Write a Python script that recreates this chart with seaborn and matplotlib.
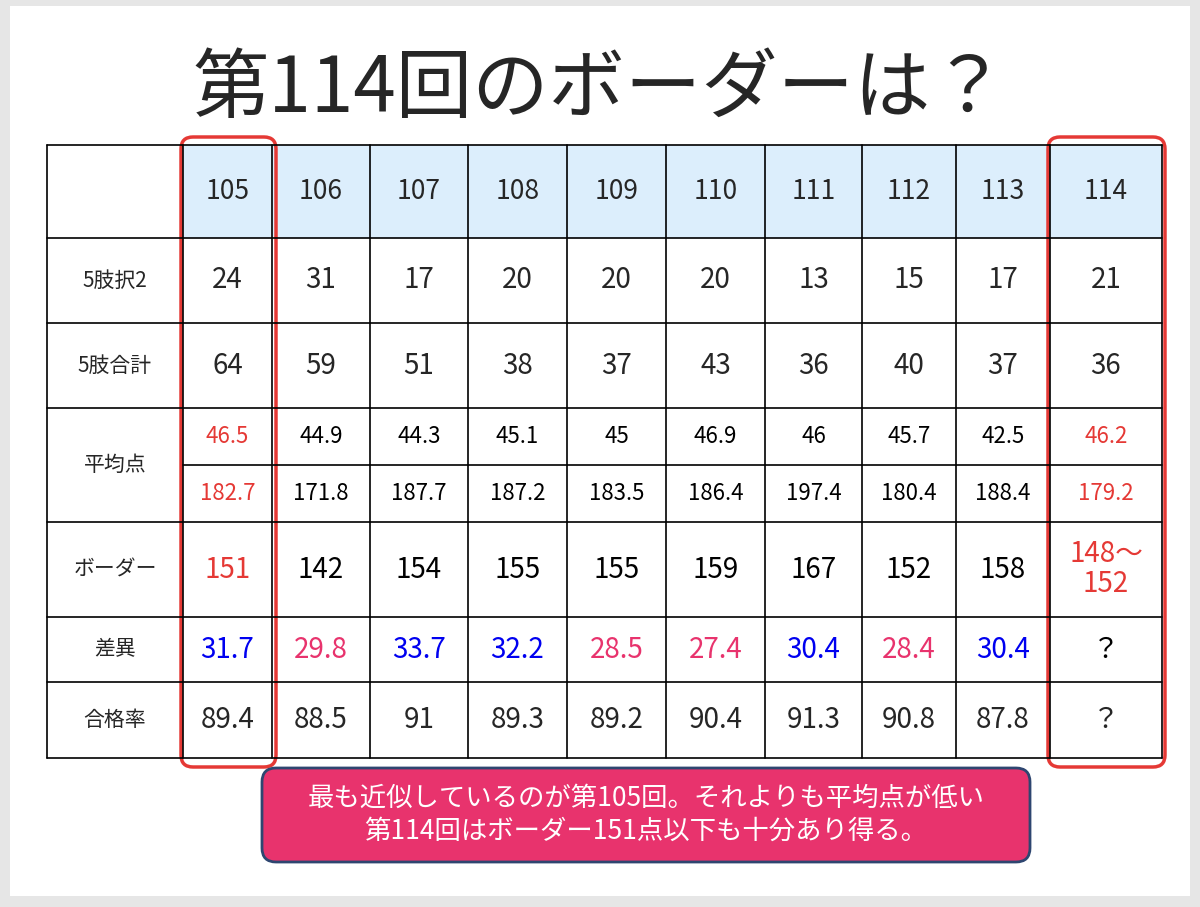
import matplotlib
matplotlib.use("Agg")
import matplotlib.pyplot as plt
import seaborn as sns
from matplotlib.patches import Rectangle, FancyBboxPatch

sns.set_style("white")
plt.rcParams['font.family'] = ['Noto Sans CJK JP', 'DejaVu Sans']

title = "第114回のボーダーは？"
exams = ["105", "106", "107", "108", "109", "110", "111", "112", "113", "114"]
row_labels = ["5肢択2", "5肢合計", "平均点", "ボーダー", "差異", "合格率"]
sel2 = ["24", "31", "17", "20", "20", "20", "13", "15", "17", "21"]
sel5 = ["64", "59", "51", "38", "37", "43", "36", "40", "37", "36"]
avg_a = ["46.5", "44.9", "44.3", "45.1", "45", "46.9", "46", "45.7", "42.5", "46.2"]
avg_b = ["182.7", "171.8", "187.7", "187.2", "183.5", "186.4", "197.4", "180.4", "188.4", "179.2"]
border = ["151", "142", "154", "155", "155", "159", "167", "152", "158", "148〜\n152"]
diff = ["31.7", "29.8", "33.7", "32.2", "28.5", "27.4", "30.4", "28.4", "30.4", "？"]
diff_col = ["b", "p", "b", "b", "p", "p", "b", "p", "b", "k"]
passrate = ["89.4", "88.5", "91", "89.3", "89.2", "90.4", "91.3", "90.8", "87.8", "？"]
note = "最も近似しているのが第105回。それよりも平均点が低い\n第114回はボーダー151点以下も十分あり得る。"

RED = "#E53935"; BLUE = "#0000F0"; PINK = "#E8336D"
cmap = {"b": BLUE, "p": PINK, "k": "black"}

W, H = 1200, 907
fig = plt.figure(figsize=(12, 9.07), dpi=100)
ax = fig.add_axes([0, 0, 1, 1])
ax.set_xlim(0, W); ax.set_ylim(H, 0); ax.axis("off")
fig.patch.set_facecolor("#e6e6e6")
ax.add_patch(Rectangle((10, 6), 1180, 890, facecolor="white", edgecolor="none"))

ax.text(600, 90, title, ha="center", va="center", fontsize=55)

xs = [47, 183, 272, 370, 468, 567, 666, 765, 862, 956, 1050, 1162]
ys = [145, 238, 323, 408, 465, 522, 617, 682, 758]

ax.add_patch(Rectangle((xs[1], ys[0]), xs[-1] - xs[1], ys[1] - ys[0], facecolor="#DCEEFC", edgecolor="none"))
for x in xs:
    ax.plot([x, x], [ys[0], ys[-1]], color="black", lw=1.2)
for i, y in enumerate(ys):
    x0 = xs[1] if i == 4 else xs[0]
    ax.plot([x0, xs[-1]], [y, y], color="black", lw=1.2)

def cx(j):
    return (xs[j + 1] + xs[j + 2]) / 2

def cy(r):
    return (ys[r] + ys[r + 1]) / 2

for j in range(10):
    ax.text(cx(j), cy(0), exams[j], ha="center", va="center", fontsize=19)
    hi = j in (0, 9)
    ax.text(cx(j), cy(1), sel2[j], ha="center", va="center", fontsize=20)
    ax.text(cx(j), cy(2), sel5[j], ha="center", va="center", fontsize=20)
    ax.text(cx(j), cy(3), avg_a[j], ha="center", va="center", fontsize=16, color=RED if hi else "black")
    ax.text(cx(j), cy(4), avg_b[j], ha="center", va="center", fontsize=16, color=RED if hi else "black")
    ax.text(cx(j), cy(5), border[j], ha="center", va="center", fontsize=20, color=RED if hi else "black", linespacing=1.0)
    ax.text(cx(j), cy(6), diff[j], ha="center", va="center", fontsize=20, color=cmap[diff_col[j]])
    ax.text(cx(j), cy(7), passrate[j], ha="center", va="center", fontsize=20)

lx = (xs[0] + xs[1]) / 2
label_y = [cy(1), cy(2), (ys[3] + ys[5]) / 2, cy(5), cy(6), cy(7)]
for lab, y in zip(row_labels, label_y):
    ax.text(lx, y, lab, ha="center", va="center", fontsize=15)

for x0, x1 in [(181, 276), (1048, 1165)]:
    ax.add_patch(FancyBboxPatch((x0, 137), x1 - x0, 630, boxstyle="round,pad=0,rounding_size=12",
                                facecolor="none", edgecolor=RED, lw=2.5))

ax.add_patch(FancyBboxPatch((262, 768), 768, 94, boxstyle="round,pad=0,rounding_size=14",
                            facecolor=PINK, edgecolor="#2E4670", lw=2))
ax.text(646, 815, note, ha="center", va="center", fontsize=19, color="white", linespacing=1.3)

fig.savefig("out.png", dpi=100)
